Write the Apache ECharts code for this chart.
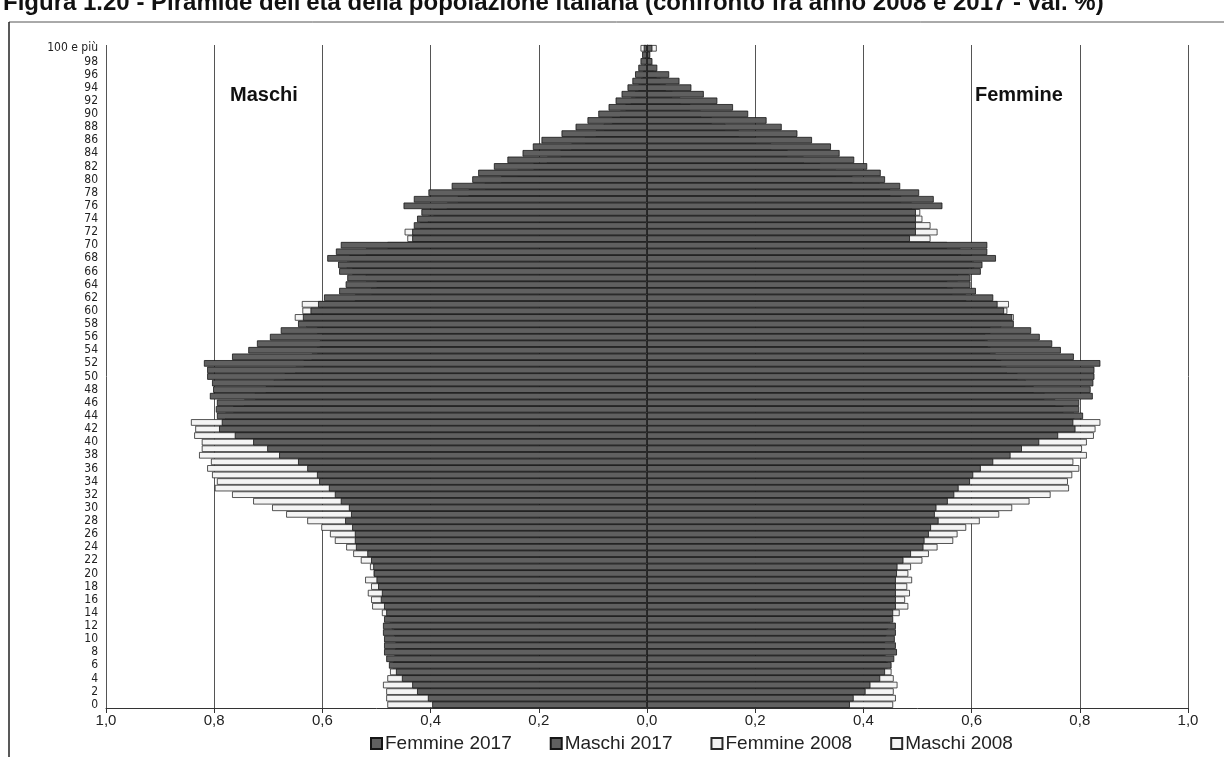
<!DOCTYPE html>
<html>
<head>
<meta charset="utf-8">
<script src="https://cdn.jsdelivr.net/npm/echarts@6/dist/echarts.min.js"></script>
<style>
html,body{margin:0;padding:0;background:#fff;}
#chart{width:1224px;height:757px;}
</style>
</head>
<body>
<div id="chart"></div>
<script>
// Età (categorie)
var ages = [];
for (var i = 0; i < 100; i++) { ages.push(String(i)); }
ages.push('100 e più');

// Valori in % (maschi come valori positivi, disegnati a sinistra)
var maschi2017 = [
0.397,0.405,0.425,0.434,0.453,0.464,0.477,0.482,0.486,0.486,
0.486,0.488,0.488,0.486,0.482,0.486,0.492,0.490,0.497,0.500,
0.505,0.506,0.510,0.517,0.538,0.540,0.540,0.545,0.558,0.547,
0.551,0.566,0.577,0.588,0.606,0.610,0.628,0.645,0.680,0.702,
0.728,0.762,0.791,0.786,0.795,0.797,0.795,0.808,0.802,0.804,
0.813,0.813,0.819,0.767,0.737,0.721,0.697,0.677,0.645,0.636,
0.622,0.608,0.597,0.569,0.557,0.554,0.569,0.571,0.591,0.575,
0.566,0.434,0.434,0.431,0.425,0.417,0.450,0.431,0.404,0.361,
0.323,0.312,0.283,0.258,0.230,0.211,0.195,0.158,0.132,0.110,
0.090,0.071,0.058,0.047,0.036,0.027,0.022,0.016,0.012,0.009,
0.006];

var femmine2017 = [
0.375,0.382,0.404,0.413,0.431,0.440,0.452,0.457,0.462,0.460,
0.458,0.460,0.460,0.455,0.455,0.460,0.460,0.460,0.460,0.460,
0.462,0.463,0.474,0.488,0.511,0.513,0.521,0.525,0.539,0.532,
0.535,0.556,0.568,0.576,0.597,0.603,0.617,0.640,0.672,0.693,
0.725,0.760,0.792,0.788,0.806,0.799,0.799,0.824,0.820,0.825,
0.827,0.827,0.838,0.789,0.765,0.749,0.726,0.710,0.678,0.675,
0.660,0.648,0.640,0.608,0.598,0.598,0.617,0.620,0.645,0.629,
0.629,0.486,0.497,0.497,0.497,0.497,0.546,0.530,0.503,0.468,
0.440,0.432,0.407,0.383,0.356,0.340,0.305,0.278,0.249,0.221,
0.187,0.159,0.130,0.105,0.082,0.060,0.041,0.019,0.010,0.006,
0.010];

var maschi2008 = [
0.480,0.482,0.482,0.488,0.480,0.475,0.470,0.468,0.466,0.465,
0.466,0.468,0.472,0.476,0.490,0.508,0.510,0.516,0.510,0.521,
0.505,0.512,0.529,0.543,0.556,0.577,0.586,0.602,0.628,0.667,
0.693,0.728,0.767,0.799,0.795,0.804,0.813,0.806,0.828,0.823,
0.823,0.837,0.835,0.843,0.780,0.765,0.745,0.725,0.705,0.690,
0.670,0.650,0.635,0.620,0.610,0.605,0.600,0.610,0.630,0.651,
0.637,0.638,0.540,0.510,0.500,0.520,0.545,0.555,0.550,0.520,
0.480,0.443,0.448,0.420,0.405,0.395,0.370,0.350,0.330,0.300,
0.270,0.240,0.210,0.185,0.160,0.140,0.115,0.095,0.080,0.065,
0.050,0.040,0.030,0.022,0.016,0.011,0.008,0.006,0.004,0.003,
0.012];

var femmine2008 = [
0.455,0.460,0.456,0.463,0.456,0.452,0.445,0.442,0.440,0.440,
0.441,0.443,0.446,0.450,0.467,0.483,0.477,0.486,0.481,0.490,
0.483,0.488,0.509,0.521,0.537,0.566,0.574,0.590,0.615,0.651,
0.675,0.707,0.746,0.780,0.778,0.786,0.799,0.788,0.813,0.804,
0.813,0.826,0.829,0.838,0.790,0.770,0.755,0.735,0.715,0.700,
0.685,0.665,0.655,0.645,0.635,0.630,0.625,0.635,0.655,0.678,
0.666,0.669,0.590,0.565,0.555,0.575,0.595,0.605,0.600,0.580,
0.555,0.524,0.537,0.524,0.509,0.505,0.490,0.470,0.450,0.430,
0.380,0.350,0.320,0.290,0.260,0.230,0.200,0.170,0.145,0.120,
0.100,0.080,0.062,0.047,0.035,0.025,0.018,0.012,0.008,0.005,
0.018];

var legendNames = ['Femmine 2017', 'Maschi 2017', 'Femmine 2008', 'Maschi 2008'];

var DARK = '#606060', DARK_B = '#161616', LIGHT = '#f4f4f4', LIGHT_B = '#2a2a2a';
var FONT = "'Liberation Sans Narrow','DejaVu Sans Condensed','Liberation Sans',sans-serif";

function neg(arr) { return arr.map(function (v) { return -v; }); }

var chart = echarts.init(document.getElementById('chart'), null, {renderer: 'canvas'});
var option = {
  animation: false,
  backgroundColor: '#fff',
  title: {
    text: "Figura 1.20 - Piramide dell'età della popolazione italiana (confronto fra anno 2008 e 2017 - val. %)",
    left: -2, top: -14,
    textStyle: {fontFamily: "'Liberation Sans',sans-serif", fontWeight: 'bold', fontSize: 24, color: '#111'}
  },
  graphic: [
    {type: 'line', shape: {x1: 9, y1: 22, x2: 1224, y2: 22}, style: {stroke: '#555', lineWidth: 1}},
    {type: 'line', shape: {x1: 9, y1: 22, x2: 9, y2: 757}, style: {stroke: '#222', lineWidth: 1.5}},
    {type: 'text', left: 230, top: 85, style: {text: 'Maschi', font: "bold 20px 'Liberation Sans',sans-serif", fill: '#111'}},
    {type: 'text', left: 975, top: 85, style: {text: 'Femmine', font: "bold 20px 'Liberation Sans',sans-serif", fill: '#111'}}
  ],
  legend: {
    data: legendNames,
    bottom: -1,
    left: 365,
    icon: 'rect',
    itemWidth: 11,
    itemHeight: 11,
    itemGap: 38,
    textStyle: {fontFamily: "'Liberation Sans',sans-serif", fontSize: 19, color: '#222', padding: [0, 0, 0, -2]}
  },
  grid: {left: 106, right: 36, top: 45, bottom: 49, containLabel: false},
  xAxis: {
    type: 'value', min: -1, max: 1, interval: 0.2,
    axisLine: {show: true, lineStyle: {color: '#333', width: 1}},
    axisTick: {show: true, length: 5, lineStyle: {color: '#333'}},
    axisLabel: {
      margin: 5, fontFamily: "'Liberation Sans',sans-serif", fontSize: 15, color: '#222',
      formatter: function (v) { return Math.abs(v).toFixed(1).replace('.', ','); }
    },
    splitLine: {show: true, lineStyle: {color: '#555', width: 1}}
  },
  yAxis: {
    type: 'category', data: ages,
    axisLine: {show: true, lineStyle: {color: '#444', width: 1}},
    axisTick: {show: false},
    axisLabel: {interval: 1, fontFamily: FONT, fontSize: 12, color: '#222', margin: 8, lineHeight: 11},
    splitLine: {show: false}
  },
  series: [
    {name: 'Femmine 2008', type: 'bar', data: femmine2008, barGap: '-100%', barCategoryGap: '0%',
     itemStyle: {color: LIGHT, borderColor: LIGHT_B, borderWidth: 0.8}},
    {name: 'Maschi 2008', type: 'bar', data: neg(maschi2008), barGap: '-100%', barCategoryGap: '0%',
     itemStyle: {color: LIGHT, borderColor: LIGHT_B, borderWidth: 0.8}},
    {name: 'Femmine 2017', type: 'bar', data: femmine2017, barGap: '-100%', barCategoryGap: '0%',
     itemStyle: {color: DARK, borderColor: DARK_B, borderWidth: 0.8}},
    {name: 'Maschi 2017', type: 'bar', data: neg(maschi2017), barGap: '-100%', barCategoryGap: '0%',
     itemStyle: {color: DARK, borderColor: DARK_B, borderWidth: 0.8}}
  ]
};
chart.setOption(option);
</script>
</body>
</html>
